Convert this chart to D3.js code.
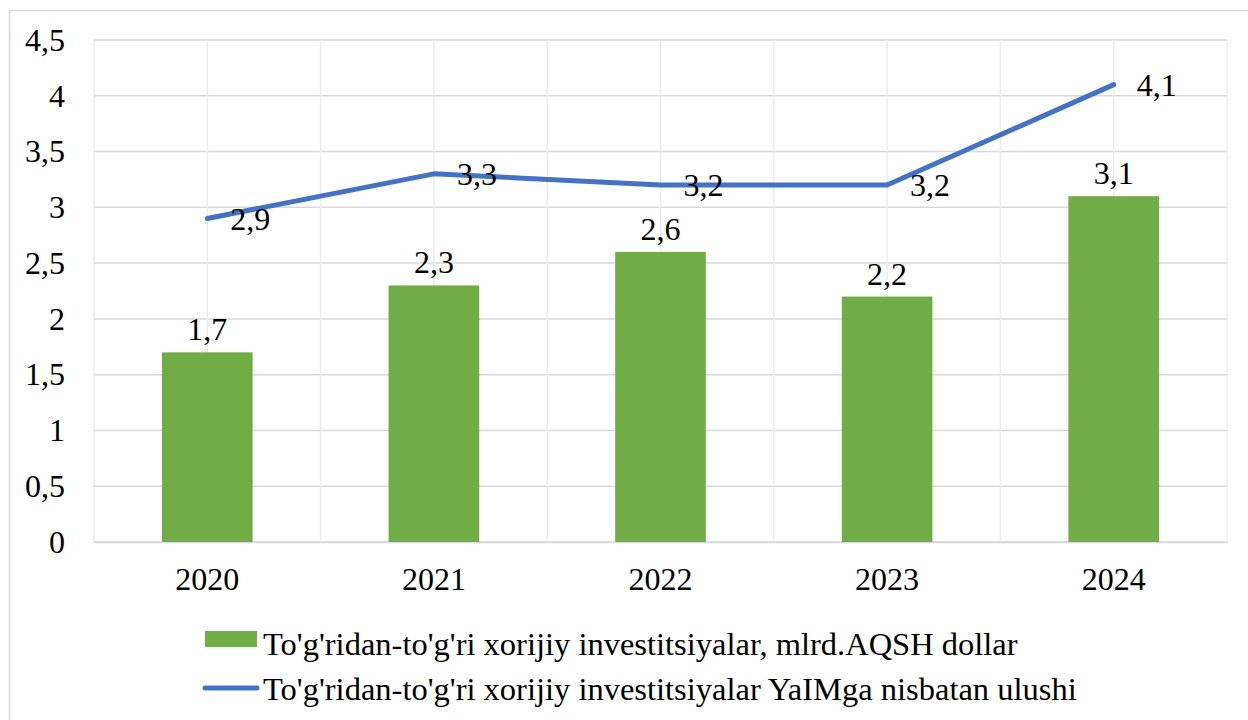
<!DOCTYPE html>
<html>
<head>
<meta charset="utf-8">
<script src="https://cdn.jsdelivr.net/npm/d3@7"></script>
<style>
  body { margin: 0; background: #fff; }
  text { font-family: "Liberation Serif", "Times New Roman", serif; fill: #000; }
</style>
</head>
<body>
<div id="chart"></div>
<script>
// data
var years = ["2020", "2021", "2022", "2023", "2024"];
var fdiValues = [1.7, 2.3, 2.6, 2.2, 3.1];        // bars, mlrd. USD
var gdpShareValues = [2.9, 3.3, 3.2, 3.2, 4.1];   // line, % of GDP
var yTicks = [0, 0.5, 1, 1.5, 2, 2.5, 3, 3.5, 4, 4.5];
var seriesNames = [
    "To'g'ridan-to'g'ri xorijiy investitsiyalar, mlrd.AQSH dollar",
    "To'g'ridan-to'g'ri xorijiy investitsiyalar YaIMga nisbatan ulushi"
];

var W = 1248, H = 720;
var margin = {top: 40, right: 21, bottom: 178, left: 94};
var width = W - margin.left - margin.right,
    height = H - margin.top - margin.bottom;
var fontSize = "32px";

var fmt = function(v) { return String(v).replace(".", ","); };

var svg = d3.select("#chart").append("svg")
    .attr("width", W)
    .attr("height", H);

// outer chart frame (mostly off the page)
svg.append("rect")
    .attr("x", 9.5).attr("y", 10.5)
    .attr("width", W + 20).attr("height", H + 20)
    .attr("fill", "none")
    .attr("stroke", "#d9d9d9")
    .attr("stroke-width", 1.5);

var g = svg.append("g")
    .attr("transform", "translate(" + margin.left + "," + margin.top + ")");

var x = d3.scaleBand()
    .domain(years)
    .range([0, width])
    .paddingInner(0.6)
    .paddingOuter(0.3);

var xCenter = function(d) { return x(d) + x.bandwidth() / 2; };
var step = width / years.length;

var y = d3.scaleLinear()
    .domain([0, 4.5])
    .range([height, 0]);

// horizontal gridlines
g.append("g")
    .selectAll("line")
    .data(yTicks)
    .enter().append("line")
        .attr("x1", 0).attr("x2", width)
        .attr("y1", function(d) { return y(d); })
        .attr("y2", function(d) { return y(d); })
        .attr("stroke", "#d9d9d9")
        .attr("stroke-width", 1.5);

// vertical gridlines, every half category
var vLines = d3.range(0, years.length * 2 + 1).map(function(i) { return i * step / 2; });
g.append("g")
    .selectAll("line")
    .data(vLines)
    .enter().append("line")
        .attr("x1", function(d) { return d; })
        .attr("x2", function(d) { return d; })
        .attr("y1", 0).attr("y2", height)
        .attr("stroke", "#ececec")
        .attr("stroke-width", 1.5);

// y axis labels
var yAxis = g.append("g")
    .call(d3.axisLeft(y).tickValues(yTicks).tickFormat(fmt).tickSize(0).tickPadding(29));
yAxis.select(".domain").remove();
yAxis.selectAll("text")
    .style("font-family", "Liberation Serif")
    .style("font-size", fontSize)
    .attr("fill", "#000");

// x axis labels
var xAxis = g.append("g")
    .attr("transform", "translate(0," + height + ")")
    .call(d3.axisBottom(x).tickSize(0).tickPadding(25));
xAxis.select(".domain")
    .attr("stroke", "#d9d9d9")
    .attr("stroke-width", 1.5);
xAxis.selectAll("text")
    .style("font-family", "Liberation Serif")
    .style("font-size", fontSize)
    .attr("fill", "#000");

// bars
g.selectAll(".bar")
    .data(fdiValues)
    .enter().append("rect")
        .attr("class", "bar")
        .attr("x", function(d, i) { return x(years[i]); })
        .attr("y", function(d) { return y(d); })
        .attr("width", x.bandwidth())
        .attr("height", function(d) { return height - y(d); })
        .attr("fill", "#70ad47");

g.selectAll(".barLabel")
    .data(fdiValues)
    .enter().append("text")
        .attr("class", "barLabel")
        .attr("x", function(d, i) { return xCenter(years[i]); })
        .attr("y", function(d) { return y(d) - 12; })
        .attr("text-anchor", "middle")
        .style("font-size", fontSize)
        .text(fmt);

// line
var line = d3.line()
    .x(function(d, i) { return xCenter(years[i]); })
    .y(function(d) { return y(d); });

g.append("path")
    .datum(gdpShareValues)
    .attr("d", line)
    .attr("fill", "none")
    .attr("stroke", "#4472c4")
    .attr("stroke-width", 5)
    .attr("stroke-linecap", "round")
    .attr("stroke-linejoin", "round");

g.selectAll(".lineLabel")
    .data(gdpShareValues)
    .enter().append("text")
        .attr("class", "lineLabel")
        .attr("x", function(d, i) { return xCenter(years[i]) + 23; })
        .attr("y", function(d) { return y(d); })
        .attr("dy", "0.35em")
        .style("font-size", fontSize)
        .text(fmt);

// legend
var legend = svg.append("g");
var legendY = [639, 688];
var legendBase = [655, 700];

legend.append("rect")
    .attr("x", 205).attr("y", legendY[0] - 8)
    .attr("width", 52).attr("height", 16)
    .attr("fill", "#70ad47");

legend.append("line")
    .attr("x1", 205).attr("x2", 257)
    .attr("y1", legendY[1]).attr("y2", legendY[1])
    .attr("stroke", "#4472c4")
    .attr("stroke-width", 5)
    .attr("stroke-linecap", "round");

legend.selectAll(".legText")
    .data(seriesNames)
    .enter().append("text")
        .attr("class", "legText")
        .attr("x", 263)
        .attr("y", function(d, i) { return legendBase[i]; })
        .style("font-size", "32.5px")
        .text(function(d) { return d; });
</script>
</body>
</html>
